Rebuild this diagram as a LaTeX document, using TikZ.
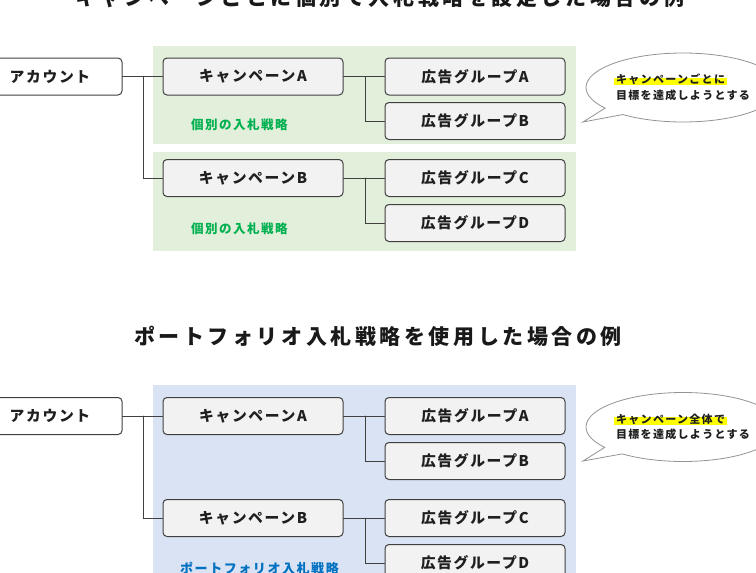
\documentclass[tikz,border=0pt]{standalone}
\usepackage{fontspec}
\setmainfont{Noto Sans CJK JP}[LetterSpace=12]
\newfontfamily\headfont{Noto Sans CJK JP}[LetterSpace=17]
\newfontfamily\boxfont{Noto Sans CJK JP}[LetterSpace=11]
\usepackage{tikz}
\usetikzlibrary{shapes.callouts}
\usepackage{xcolor}
\definecolor{grbg}{HTML}{E2EFDA}
\definecolor{blbg}{HTML}{DAE3F3}
\definecolor{grtext}{HTML}{00B050}
\definecolor{bltext}{HTML}{0070C0}
\definecolor{boxgray}{HTML}{F2F2F2}
\definecolor{edge}{HTML}{404040}
\definecolor{hlyellow}{HTML}{FFFF00}
\newsavebox\markbox
\newcommand\marker[1]{\sbox\markbox{#1}\rlap{\hspace{-2pt}\textcolor{hlyellow}{\rule[-1.5pt]{\dimexpr\wd\markbox+4pt\relax}{7.5pt}}}\usebox\markbox}

\begin{document}
\begin{tikzpicture}[x=1pt,y=-1pt,line cap=round,
  box/.style={draw=edge,line width=1pt,rounded corners=4pt,fill=boxgray,minimum width=180pt,minimum height=37pt,inner sep=0pt,text=black!88,font=\boxfont\fontsize{14.8}{16}\selectfont\bfseries},
  link/.style={draw=edge,line width=1pt},
  heading/.style={text=black!90,font=\headfont\fontsize{21}{24}\selectfont\bfseries},
  strat/.style={anchor=west,inner sep=0pt,font=\fontsize{12.5}{15}\selectfont\bfseries},
  bubble/.style={ellipse callout,draw=gray!85,line width=0.8pt,fill=white,minimum width=194pt,minimum height=69pt,inner sep=0pt,align=left,text=black!88,font=\fontsize{11}{15.5}\selectfont\bfseries}]
\useasboundingbox (0,0) rectangle (756,573);
\clip (0,0) rectangle (756,573);

\node[heading] (title1) at (380,-3) {キャンペーンごとに個別で入札戦略を設定した場合の例};
\fill[grbg] (153,46) rectangle (576,144);
\fill[grbg] (153,152) rectangle (576,251);
\node[box,fill=white,minimum width=144pt] (acc1) at (50,76.5) {アカウント};
\node[box] (campA1) at (253,76.5) {キャンペーンA};
\node[box] (campB1) at (253,178) {キャンペーンB};
\node[box] (grpA1) at (475,76.5) {広告グループA};
\node[box] (grpB1) at (475,121) {広告グループB};
\node[box] (grpC1) at (475,178) {広告グループC};
\node[box] (grpD1) at (475,223) {広告グループD};
\node[strat,text=grtext] (stratA1) at (191,125) {個別の入札戦略};
\node[strat,text=grtext] (stratB1) at (191,229) {個別の入札戦略};
\draw[link] (acc1.east) -- (campA1.west);
\draw[link] (acc1.east) ++(21,0) |- (campB1.west);
\draw[link] (campA1.east) -- (grpA1.west);
\draw[link] (campA1.east) ++(22,0) |- (grpB1.west);
\draw[link] (campB1.east) -- (grpC1.west);
\draw[link] (campB1.east) ++(22,0) |- (grpD1.west);
\node[bubble,callout absolute pointer={(583,122)}] (note1) at (683,87.5) {\marker{キャンペーンごとに}\\目標を達成しようとする};

\node[heading] (title2) at (378,336) {ポートフォリオ入札戦略を使用した場合の例};
\fill[blbg] (153,385) rectangle (576,573);
\node[box,fill=white,minimum width=144pt] (acc2) at (50,416) {アカウント};
\node[box] (campA2) at (253,416) {キャンペーンA};
\node[box] (campB2) at (253,518) {キャンペーンB};
\node[box] (grpA2) at (475,416) {広告グループA};
\node[box] (grpB2) at (475,461) {広告グループB};
\node[box] (grpC2) at (475,518) {広告グループC};
\node[box] (grpD2) at (475,563) {広告グループD};
\node[strat,text=bltext,font=\fontsize{13}{15}\selectfont\bfseries] (strat2) at (180,568) {ポートフォリオ入札戦略};
\draw[link] (acc2.east) -- (campA2.west);
\draw[link] (acc2.east) ++(21,0) |- (campB2.west);
\draw[link] (campA2.east) -- (grpA2.west);
\draw[link] (campA2.east) ++(22,0) |- (grpB2.west);
\draw[link] (campB2.east) -- (grpC2.west);
\draw[link] (campB2.east) ++(22,0) |- (grpD2.west);
\node[bubble,callout absolute pointer={(583,461)}] (note2) at (683,427) {\marker{キャンペーン全体で}\\目標を達成しようとする};
\end{tikzpicture}
\end{document}
